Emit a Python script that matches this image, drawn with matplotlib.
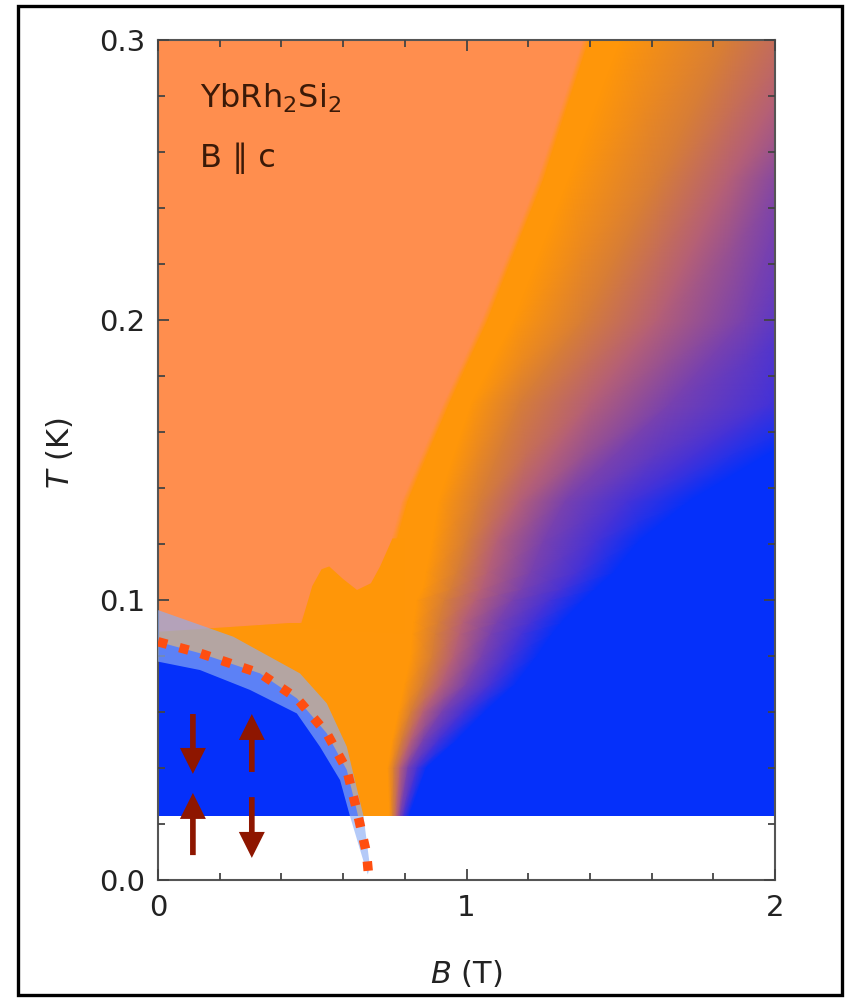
import numpy as np
import matplotlib
matplotlib.use("Agg")
import matplotlib.pyplot as plt
from matplotlib.colors import LinearSegmentedColormap, Normalize
from matplotlib.patches import Rectangle

# ---- colour map of the resistivity exponent ----
exp_levels = [0.8, 1.0, 1.2, 1.4, 1.6, 1.8, 2.0]
exp_colors = ["#FF8E4E", "#FF9608", "#D77D37", "#B45F78", "#7841AF", "#4632D7", "#0530FA"]

# rows of the map: temperature and the field where each colour stop sits
T_rows = np.array([0.023, 0.04, 0.05, 0.06, 0.07, 0.08, 0.088, 0.092, 0.10,
                   0.104, 0.11, 0.121, 0.135, 0.17, 0.20, 0.25, 0.30])
coral_end = [-0.08, -0.08, -0.08, -0.08, -0.08, -0.08, -0.08, 0.46, 0.49,
             0.69, 0.71, 0.755, 0.79, 0.925, 1.05, 1.23, 1.378]
orange_start = [-0.06, -0.06, -0.06, -0.06, -0.06, -0.06, -0.06, 0.48, 0.51,
                0.71, 0.73, 0.775, 0.81, 0.945, 1.07, 1.25, 1.398]
orange_end = [0.75, 0.745, 0.76, 0.78, 0.80, 0.82, 0.825, 0.83, 0.84,
              0.86, 0.87, 0.89, 0.91, 1.015, 1.154, 1.33, 1.50]
brown_edge = [0.762, 0.765, 0.79, 0.82, 0.86, 0.89, 0.90, 0.91, 0.93,
              0.95, 0.97, 1.00, 1.04, 1.17, 1.38, 1.62, 1.85]
mauve_edge = [0.774, 0.785, 0.82, 0.86, 0.92, 0.96, 0.98, 0.99, 1.03,
              1.05, 1.07, 1.10, 1.17, 1.40, 1.62, 1.85, 2.12]
purple_edge = [0.786, 0.81, 0.86, 0.92, 1.00, 1.05, 1.08, 1.10, 1.15,
               1.18, 1.21, 1.25, 1.32, 1.66, 1.90, 2.05, 2.40]
violet_edge = [0.798, 0.84, 0.91, 0.99, 1.08, 1.14, 1.18, 1.21, 1.27,
               1.31, 1.36, 1.42, 1.52, 1.98, 2.10, 2.30, 2.65]
blue_edge = [0.815, 0.87, 0.97, 1.06, 1.16, 1.23, 1.28, 1.31, 1.38,
             1.42, 1.48, 1.56, 1.72, 2.25, 2.30, 2.50, 2.90]
stop_exponent = [0.8, 0.8, 1.0, 1.0, 1.2, 1.4, 1.6, 1.8, 2.0, 2.0]
T_map_min = 0.023

# orange bump above the AF dome
bump_B = [0.80, 0.46, 0.50, 0.53, 0.555, 0.60, 0.645, 0.69, 0.72, 0.76, 0.80]
bump_T = [0.088, 0.090, 0.105, 0.111, 0.112, 0.1075, 0.1036, 0.106, 0.112, 0.122, 0.122]

# AF phase boundary T_N(B) (dotted line)
tn_B = [0.0, 0.136, 0.331, 0.45, 0.547, 0.612, 0.644, 0.676, 0.682]
tn_T = [0.0851, 0.081, 0.0738, 0.0649, 0.0524, 0.0393, 0.025, 0.0095, 0.0024]

# light-blue band around the boundary
band_top_B = [0.0, 0.244, 0.46, 0.547, 0.612, 0.666, 0.687]
band_top_T = [0.0964, 0.0869, 0.0738, 0.0631, 0.0476, 0.0229, 0.0048]
band_bot_B = [0.0, 0.136, 0.298, 0.45, 0.525, 0.59, 0.622, 0.665, 0.68]
band_bot_T = [0.078, 0.075, 0.0679, 0.0595, 0.0476, 0.0357, 0.0229, 0.0071, 0.0020]

# spin arrows: (B, T_tail, T_tip)
arrows = [(0.113, 0.0593, 0.0379), (0.113, 0.0089, 0.0311),
          (0.304, 0.0386, 0.0593), (0.304, 0.0296, 0.0079)]

fig = plt.figure(figsize=(8.46, 9.99), dpi=100)
ax = fig.add_axes([0.1868, 0.1191, 0.7293, 0.8408])

cmap = LinearSegmentedColormap.from_list(
    "eps", [((v - 0.8) / 1.2, c) for v, c in zip(exp_levels, exp_colors)])
n = len(T_rows)
X = np.column_stack([np.full(n, -0.1), coral_end, orange_start, orange_end,
                     brown_edge, mauve_edge, purple_edge, violet_edge,
                     blue_edge, np.full(n, 3.2)])
Y = np.repeat(T_rows[:, None], X.shape[1], axis=1)
C = np.tile(stop_exponent, (n, 1))
ax.pcolormesh(X, Y, C, shading="gouraud", cmap=cmap,
              norm=Normalize(0.8, 2.0), zorder=1)

ax.fill(bump_B, bump_T, color=exp_colors[1], lw=0, zorder=1.2)

# AF ordered region
ax.fill([0] + tn_B + [tn_B[-1]], [0] + tn_T + [0], color=exp_colors[-1],
        lw=0, zorder=1.5)
ax.axhspan(0, T_map_min, color="white", lw=0, zorder=1.8)

ax.fill(band_top_B + band_bot_B[::-1], band_top_T + band_bot_T[::-1],
        color="#8CAEF5", alpha=0.65, lw=0, zorder=3)
ax.plot(tn_B, tn_T, color="#FF4E10", lw=6.8, ls=(0, (1, 1.35)),
        dash_capstyle="butt", zorder=4)

for b, t0, t1 in arrows:
    ax.annotate("", xy=(b, t1), xytext=(b, t0), zorder=5,
                arrowprops=dict(arrowstyle="simple,head_length=0.55,head_width=0.55,tail_width=0.12",
                                mutation_scale=34, color="#8E1600",
                                shrinkA=0, shrinkB=0, lw=0))

ax.text(0.136, 0.2757, "YbRh$_2$Si$_2$", fontsize=23, color="#3B1A08",
        va="baseline", zorder=6)
ax.text(0.136, 0.2546, "B \u2225 c", fontsize=23, color="#3B1A08",
        va="baseline", zorder=6)

ax.set_xlim(0, 2)
ax.set_ylim(0, 0.3)
ax.set_xticks([0, 1, 2])
ax.set_xticks(np.arange(0, 2.01, 0.2), minor=True)
ax.set_yticks([0.0, 0.1, 0.2, 0.3])
ax.set_yticks(np.arange(0, 0.301, 0.02), minor=True)
ax.set_xticklabels(["0", "1", "2"])
ax.set_yticklabels(["0.0", "0.1", "0.2", "0.3"])
ax.tick_params(which="both", direction="in", top=True, right=True,
               color="#444444", width=1.3, labelsize=21, labelcolor="#222222")
ax.tick_params(axis="x", which="both", pad=10)
ax.tick_params(axis="y", which="both", pad=9)
ax.tick_params(which="major", length=8)
ax.tick_params(which="minor", length=5)
ax.set_axisbelow(False)
for s in ax.spines.values():
    s.set_color("#555555")
    s.set_linewidth(1.5)

ax.set_xlabel("$B$ (T)", fontsize=22, color="#222222")
ax.set_ylabel("$T$ (K)", fontsize=22, color="#222222")
ax.xaxis.set_label_coords(0.5, -0.093)
ax.yaxis.set_label_coords(-0.135, 0.508)

fig.patches.append(Rectangle((0.0213, 0.004), 0.974, 0.99, transform=fig.transFigure,
                             fill=False, lw=2.4, ec="black"))

fig.savefig("out.png", dpi=100)
